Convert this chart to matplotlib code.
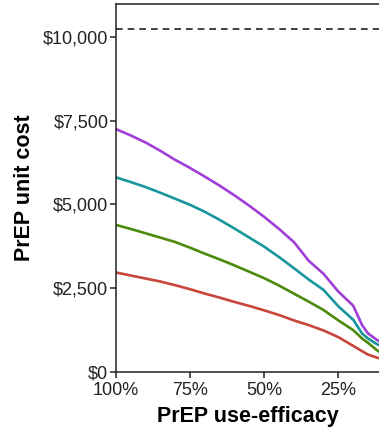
import matplotlib.pyplot as plt
from matplotlib.ticker import FuncFormatter

plt.rcParams['font.family'] = ['Liberation Sans', 'DejaVu Sans']

# PrEP use-efficacy (%) and break-even unit cost ($) per scenario
efficacy = [100, 95, 90, 85, 80, 75, 70, 65, 60, 55, 50, 45, 40, 35, 30, 25, 20, 17, 15, 12, 10]
cost_purple = [7250, 7060, 6850, 6600, 6330, 6090, 5830, 5560, 5270, 4960, 4630, 4270, 3880, 3320, 2930,
               2400, 1980, 1400, 1150, 960, 850]
cost_teal = [5810, 5670, 5520, 5350, 5170, 4990, 4780, 4540, 4280, 4010, 3740, 3430, 3100, 2760, 2450,
             1960, 1560, 1150, 1000, 830, 750]
cost_green = [4390, 4270, 4140, 4010, 3880, 3710, 3530, 3360, 3180, 2990, 2800, 2580, 2340, 2100, 1850,
              1540, 1250, 1000, 870, 650, 540]
cost_red = [2970, 2880, 2790, 2700, 2590, 2470, 2340, 2220, 2090, 1970, 1840, 1700, 1540, 1400, 1240,
            1040, 780, 620, 520, 430, 370]
threshold = 10250

series = [
    (cost_red, '#C7453A'),
    (cost_green, '#4B8A0C'),
    (cost_teal, '#17969D'),
    (cost_purple, '#A03FD8'),
]

fig = plt.figure(figsize=(3.79, 4.28), dpi=100)
ax = fig.add_axes([116 / 379, 1 - 372 / 428, 1 - 116 / 379, (372 - 4) / 428])

for values, color in series:
    ax.plot(efficacy, values, color=color, lw=1.9, solid_joinstyle='round')

ax.axhline(threshold, color='#222222', lw=1.2, linestyle=(0, (4, 3)))

ax.set_xlim(100, 11.3)
ax.set_ylim(0, 10985)
ax.set_xticks([100, 75, 50, 25])
ax.xaxis.set_major_formatter(FuncFormatter(lambda v, _: f'{v:.0f}%'))
ax.set_yticks([0, 2500, 5000, 7500, 10000])
ax.yaxis.set_major_formatter(FuncFormatter(lambda v, _: f'${v:,.0f}'))

ax.spines['right'].set_visible(False)
for side in ['left', 'bottom', 'top']:
    ax.spines[side].set_color('#222222')
    ax.spines[side].set_linewidth(1.1)

ax.tick_params(axis='both', length=4, width=1.1, color='#222222',
               labelsize=13, labelcolor='#222222')
ax.tick_params(axis='x', pad=3)
ax.tick_params(axis='y', pad=1.5)

ax.set_xlabel('PrEP use-efficacy', fontsize=15.5, fontweight='bold', labelpad=5)
ax.set_ylabel('PrEP unit cost', fontsize=15.5, fontweight='bold', labelpad=6)

fig.savefig('out.png', dpi=100)
